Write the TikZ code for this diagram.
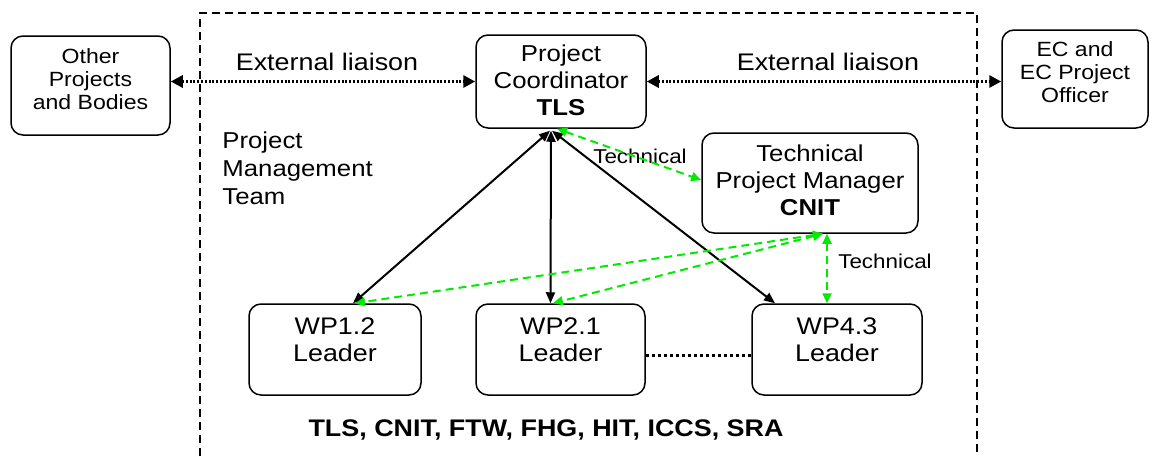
\documentclass[tikz,border=0pt]{standalone}
\usepackage{fontspec}
\setmainfont{Liberation Sans}[FakeStretch=1.12]
\usetikzlibrary{arrows.meta}
\definecolor{techgreen}{RGB}{0,235,0}

\begin{document}
\begin{tikzpicture}[x=0.5pt,y=-0.5pt,
  box/.style={draw,rounded corners=6pt,line width=0.75pt,inner sep=0pt},
  txt/.style={inner sep=0pt,align=center},
  smalltxt/.style={txt,font=\fontsize{10.3}{11.5}\selectfont},
  midtxt/.style={txt,font=\fontsize{11.5}{13.5}\selectfont},
  wptxt/.style={txt,font=\fontsize{12}{13.5}\selectfont},
  lbl/.style={inner sep=0pt,anchor=base,font=\fontsize{12}{14}\selectfont},
  techlbl/.style={inner sep=0pt,anchor=base,font=\fontsize{10}{12}\selectfont},
  liaison/.style={line width=1.5pt,dash pattern=on 1pt off 0.9pt,
    {Triangle[length=6pt,width=6pt]}-{Triangle[length=6pt,width=6pt]}},
  report/.style={line width=1pt,
    {Triangle[length=5.5pt,width=4.5pt]}-{Triangle[length=5.5pt,width=4.5pt]}},
  techlink/.style={techgreen,line width=1pt,dash pattern=on 4pt off 2.5pt,
    {Triangle[length=5pt,width=4.5pt]}-{Triangle[length=5pt,width=4.5pt]}},
  wpdots/.style={line width=1.5pt,dash pattern=on 1.5pt off 1.5pt}]

\useasboundingbox (0,0) rectangle (1152,456);

% project boundary (open at the bottom)
\draw[line width=1pt,dash pattern=on 4pt off 2.5pt]
  (200,456) -- (200,13) -- (977,13) -- (977,456);

% boxes
\node[box,minimum width=79.5pt,minimum height=49.5pt] (other) at (90.5,85.5) {};
\node[box,minimum width=85pt,minimum height=46.5pt] (coord) at (561,81.5) {};
\node[box,minimum width=73pt,minimum height=49pt] (ec) at (1075,79) {};
\node[box,minimum width=108pt,minimum height=50pt] (tpm) at (810,183) {};
\node[box,minimum width=86pt,minimum height=45.5pt] (wpa) at (335,349.5) {};
\node[box,minimum width=84.5pt,minimum height=45.5pt] (wpb) at (560.5,349.5) {};
\node[box,minimum width=85pt,minimum height=45.5pt] (wpc) at (837,349.5) {};

% box texts
\node[smalltxt,yshift=3pt] (other-t) at (other.center) {Other\\Projects\\and Bodies};
\node[midtxt,yshift=0.5pt] (coord-t) at (coord.center) {Project\\Coordinator\\\textbf{TLS}};
\node[smalltxt,yshift=3.5pt] (ec-t) at (ec.center) {EC and\\EC Project\\Officer};
\node[midtxt,yshift=1.5pt] (tpm-t) at (tpm.center) {Technical\\Project Manager\\\textbf{CNIT}};
\node[wptxt,yshift=5pt] (wpa-t) at (wpa.center) {WP1.2\\Leader};
\node[wptxt,yshift=5pt] (wpb-t) at (wpb.center) {WP2.1\\Leader};
\node[wptxt,yshift=5pt] (wpc-t) at (wpc.center) {WP4.3\\Leader};

% free texts
\node[inner sep=0pt,anchor=north west,align=left,
  font=\fontsize{11.5}{14}\selectfont] (pmt) at (222,131)
  {Project\\Management\\Team};
\node[inner sep=0pt,anchor=base,font=\fontsize{12}{14}\selectfont\bfseries]
  (partners) at (546,436) {TLS, CNIT, FTW, FHG, HIT, ICCS, SRA};
\node[lbl] (ext-l) at (327,70) {External liaison};
\node[lbl] (ext-r) at (828,70) {External liaison};
\node[techlbl] (tech-a) at (640,163) {Technical};
\node[techlbl] (tech-b) at (885,268) {Technical};

% external liaison
\draw[liaison] (other.east |- coord.west) -- (coord.west);
\draw[liaison] (coord.east) -- (coord.east -| ec.west);

% management lines
\draw[report] ([xshift=-5.5pt,yshift=-1pt]coord.south) -- ([xshift=9pt]wpa.north);
\draw[report] ([xshift=-5pt,yshift=-1pt]coord.south) -- ([xshift=-5pt]wpb.north);
\draw[report] ([xshift=-4.5pt,yshift=-1pt]coord.south) -- ([xshift=-31pt]wpc.north);

% technical lines
\draw[techlink] ([xshift=-2pt]coord.south) -- ([yshift=1.5pt]tpm.west);
\draw[techlink] ([xshift=6.5pt]tpm.south) -- ([xshift=10pt]wpa.north);
\draw[techlink] ([xshift=6.5pt]tpm.south) -- ([xshift=-3.75pt]wpb.north);
\draw[techlink] ([xshift=8.5pt]tpm.south) -- ([xshift=-5pt]wpc.north);

% further work packages
\draw[wpdots] ([yshift=-3pt]wpb.east) -- ([yshift=-3pt]wpc.west);
\end{tikzpicture}
\end{document}
